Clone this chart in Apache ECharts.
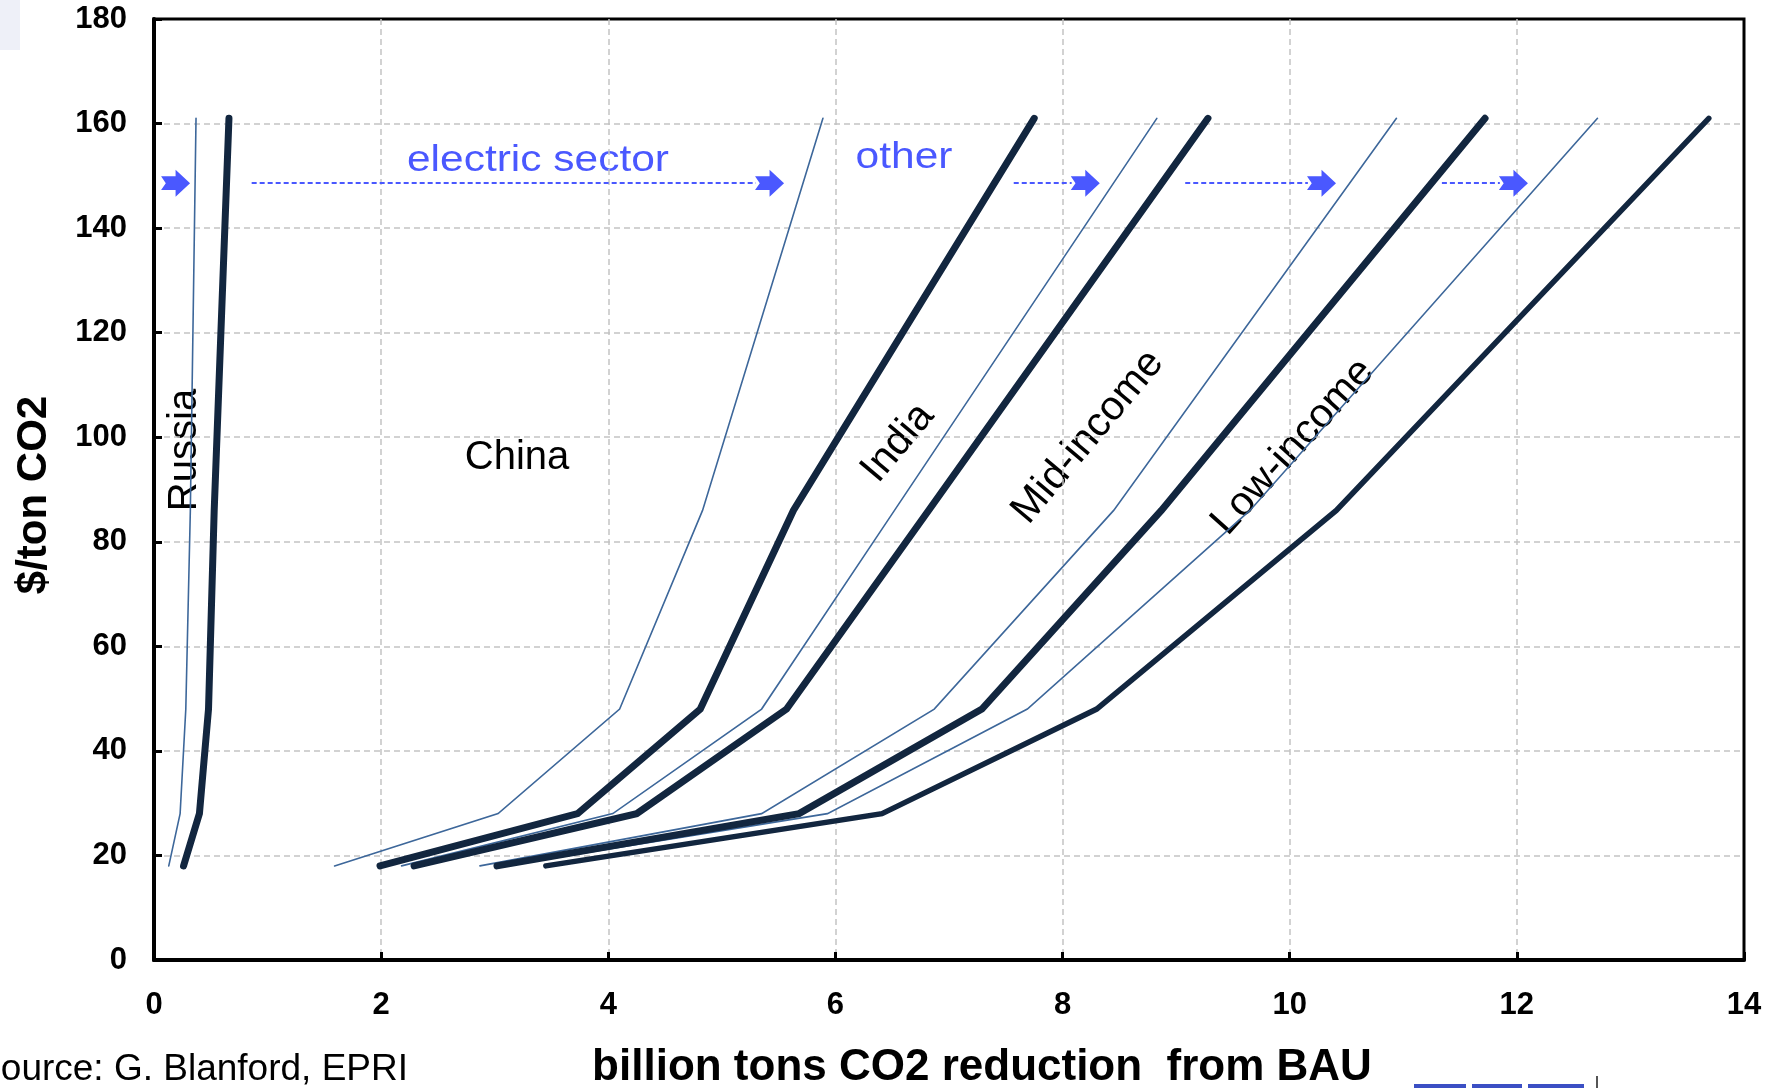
<!DOCTYPE html>
<html>
<head>
<meta charset="utf-8">
<script src="https://cdn.jsdelivr.net/npm/echarts@6/dist/echarts.min.js"></script>
<style>
    html, body { margin: 0; padding: 0; background: #fff; }
    #chart { width: 1766px; height: 1088px; }
</style>
</head>
<body>
<div id="chart"></div>
<script>
// carbon price steps ($/ton CO2)
const prices = [18, 28, 48, 86, 161];

// cumulative reduction (billion tons) at each price, electric sector / total per region
const russiaElec = [0.13, 0.23, 0.28, 0.32, 0.37];
const russiaTotal = [0.26, 0.40, 0.48, 0.53, 0.66];
const chinaElec = [1.59, 3.03, 4.10, 4.83, 5.89];
const chinaTotal = [1.99, 3.73, 4.81, 5.63, 7.75];
const indiaElec = [2.18, 4.04, 5.35, 6.52, 8.83];
const indiaTotal = [2.29, 4.25, 5.57, 6.82, 9.28];
const midElec = [2.87, 5.35, 6.87, 8.45, 10.94];
const midTotal = [3.02, 5.68, 7.29, 8.87, 11.72];
const lowElec = [3.08, 5.93, 7.69, 9.65, 12.71];
const lowTotal = [3.45, 6.41, 8.30, 10.41, 13.69];

// blue arrow annotations
const arrowY = 148.6;
const arrowHeads = [0.19, 5.42, 8.20, 10.28, 11.97];
const arrowLines = [[0.86, 5.30], [7.57, 8.08], [9.08, 10.16], [11.34, 11.85]];

const thin = '#3d679a';
const thick = '#12263f';
const blue = '#4a58ff';

const chart = echarts.init(document.getElementById('chart'));

const mkLine = (name, xs, color, width) => {
    return {
        name: name,
        type: 'line',
        data: xs.map((x, i) => [x, prices[i]]),
        showSymbol: false,
        symbol: 'none',
        silent: true,
        lineStyle: { color: color, width: width, cap: 'round', join: 'miter' },
        z: width > 3 ? 3 : 2
    };
};

const option = {
    animation: false,
    grid: {
        left: 154,
        right: 22,
        top: 19,
        bottom: 128,
        show: true,
        borderColor: '#000',
        borderWidth: 3
    },
    xAxis: {
        type: 'value',
        min: 0,
        max: 14,
        interval: 2,
        axisLine: { onZero: false, lineStyle: { color: '#000', width: 4 } },
        axisTick: { inside: true, length: 8, lineStyle: { color: '#000', width: 3 } },
        axisLabel: {
            color: '#000', fontSize: 31, fontWeight: 'bold', margin: 30,
            fontFamily: 'Liberation Sans, Arial', showMinLabel: true, showMaxLabel: true
        },
        splitLine: { showMinLine: false, showMaxLine: false, lineStyle: { color: '#c4c4c4', width: 1.5, type: [6, 4] } }
    },
    yAxis: {
        type: 'value',
        min: 0,
        max: 180,
        interval: 20,
        axisLine: { show: true, onZero: false, lineStyle: { color: '#000', width: 4 } },
        axisTick: { show: true, inside: true, length: 8, lineStyle: { color: '#000', width: 3 } },
        axisLabel: {
            color: '#000', fontSize: 31, fontWeight: 'bold', margin: 27,
            fontFamily: 'Liberation Sans, Arial', showMinLabel: true, showMaxLabel: true
        },
        splitLine: { showMinLine: false, showMaxLine: false, lineStyle: { color: '#c4c4c4', width: 1.5, type: [6, 4] } }
    },
    series: [
        mkLine('Russia electric', russiaElec, thin, 1.6),
        mkLine('Russia', russiaTotal, thick, 7),
        mkLine('China electric', chinaElec, thin, 1.6),
        mkLine('China', chinaTotal, thick, 7),
        mkLine('India electric', indiaElec, thin, 1.6),
        mkLine('India', indiaTotal, thick, 7),
        mkLine('Mid-income electric', midElec, thin, 1.6),
        mkLine('Mid-income', midTotal, thick, 7),
        mkLine('Low-income electric', lowElec, thin, 1.6),
        mkLine('Low-income', lowTotal, thick, 5.5),
        {
            name: 'arrows',
            type: 'scatter',
            silent: true,
            data: arrowHeads.map((x) => [x, arrowY]),
            symbol: 'path://M0,20 L43,20 L43,0 L86,41 L43,82 L43,62 L0,62 L14,41 Z',
            symbolSize: [29, 27],
            itemStyle: { color: blue, opacity: 1 },
            z: 4,
            markLine: {
                silent: true,
                symbol: 'none',
                label: { show: false },
                lineStyle: { color: blue, width: 2, type: [5, 3] },
                data: arrowLines.map((seg) => [{ coord: [seg[0], arrowY] }, { coord: [seg[1], arrowY] }])
            }
        }
    ],
    graphic: [
        // faint slide remnant top left
        { type: 'rect', left: 0, top: 0, shape: { width: 20, height: 50 }, style: { fill: '#eef0f8' } },
        {
            type: 'text', x: 34, y: 495, rotation: Math.PI / 2,
            style: { text: '$/ton CO2', font: 'bold 42px "Liberation Sans", Arial', fill: '#000', textAlign: 'center', textVerticalAlign: 'middle' }
        },
        {
            type: 'text', x: 982, y: 1068,
            style: { text: 'billion tons CO2 reduction  from BAU', font: 'bold 44px "Liberation Sans", Arial', fill: '#000', textAlign: 'center', textVerticalAlign: 'middle' }
        },
        {
            type: 'text', x: 408, y: 1070,
            style: { text: 'Source: G. Blanford, EPRI', font: '37px "Liberation Sans", Arial', fill: '#000', textAlign: 'right', textVerticalAlign: 'middle' }
        },
        // region labels
        {
            type: 'text', x: 185, y: 450, rotation: Math.PI / 2,
            style: { text: 'Russia', font: '40px "Liberation Sans", Arial', fill: '#000', textAlign: 'center', textVerticalAlign: 'middle' }
        },
        {
            type: 'text', x: 517, y: 458,
            style: { text: 'China', font: '40px "Liberation Sans", Arial', fill: '#000', textAlign: 'center', textVerticalAlign: 'middle' }
        },
        {
            type: 'text', x: 898, y: 443, rotation: 50 * Math.PI / 180,
            style: { text: 'India', font: '41px "Liberation Sans", Arial', fill: '#000', textAlign: 'center', textVerticalAlign: 'middle' }
        },
        {
            type: 'text', x: 1088, y: 437, rotation: 50 * Math.PI / 180,
            style: { text: 'Mid-income', font: '41px "Liberation Sans", Arial', fill: '#000', textAlign: 'center', textVerticalAlign: 'middle' }
        },
        {
            type: 'text', x: 1293, y: 447, rotation: 48 * Math.PI / 180,
            style: { text: 'Low-income', font: '41px "Liberation Sans", Arial', fill: '#000', textAlign: 'center', textVerticalAlign: 'middle' }
        },
        // blue annotations
        {
            type: 'text', x: 538, y: 161, scaleX: 1.18,
            style: { text: 'electric sector', font: '36px "Liberation Sans", Arial', fill: blue, textAlign: 'center', textVerticalAlign: 'middle' }
        },
        {
            type: 'text', x: 904, y: 158, scaleX: 1.18,
            style: { text: 'other', font: '36px "Liberation Sans", Arial', fill: blue, textAlign: 'center', textVerticalAlign: 'middle' }
        },
        // bits of the EPRI logo cut off at the bottom right
        { type: 'rect', left: 1414, top: 1084, shape: { width: 52, height: 4 }, style: { fill: '#3b4fc4' } },
        { type: 'rect', left: 1472, top: 1084, shape: { width: 50, height: 4 }, style: { fill: '#3b4fc4' } },
        { type: 'rect', left: 1528, top: 1084, shape: { width: 56, height: 4 }, style: { fill: '#3b4fc4' } },
        { type: 'rect', left: 1596, top: 1076, shape: { width: 2, height: 12 }, style: { fill: '#555' } }
    ]
};

chart.setOption(option);
</script>
</body>
</html>
